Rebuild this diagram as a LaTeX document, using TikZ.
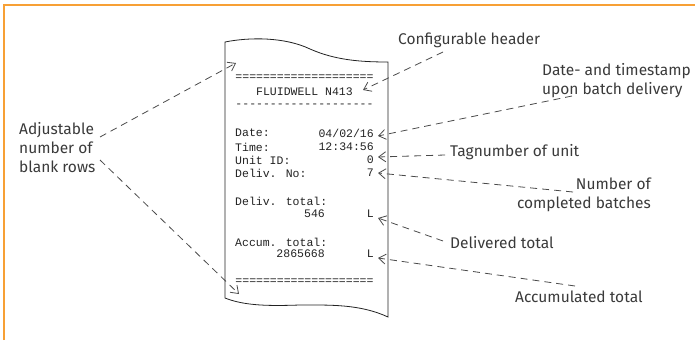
\documentclass[tikz,border=0pt]{standalone}
\usepackage{fontspec}
\setmainfont{Fira Sans}
\newfontfamily\rcpt{Liberation Mono}
\usetikzlibrary{arrows.meta}
\definecolor{frameorange}{HTML}{F7A035}
\definecolor{txtgray}{HTML}{3A3A3A}
\definecolor{rcptgray}{HTML}{222222}
\definecolor{linegray}{HTML}{4A4A4A}
\tikzset{
  rcptxt/.style={inner sep=0pt, font=\rcpt\fontsize{11.5}{13}\selectfont, text=rcptgray},
  lbl/.style={inner sep=0pt, font=\fontsize{15.5}{19}\selectfont, text=txtgray, align=left},
  callout/.style={draw=linegray, line width=0.8pt, dash pattern=on 7pt off 5pt,
    -{Straight Barb[length=7pt,width=10pt,line width=0.8pt]}},
  paper/.style={draw=rcptgray, line width=0.8pt}
}
\begin{document}
\begin{tikzpicture}[x=1pt,y=-1pt]
\useasboundingbox (0,0) rectangle (695,340);
% frame
\draw[frameorange, line width=1.5pt] (4,340) -- (4,5) -- (695,5);
% receipt paper
\draw[paper] (225,42) .. controls (250,37) and (285,37) .. (310,49)
  .. controls (335,60) and (360,62) .. (388,62) -- (388,317)
  .. controls (360,304) and (330,305) .. (300,305)
  .. controls (270,306) and (245,306) .. (225,298) -- cycle;
% receipt text
\node[rcptxt] (eq1) at (304.5,78) {====================};
\node[rcptxt] (hdr) at (304.5,92) {FLUIDWELL N413};
\node[rcptxt] (dash) at (304.5,106) {--------------------};
\node[rcptxt, anchor=west] (datek) at (235,133) {Date:};
\node[rcptxt, anchor=east] (datev) at (374,133) {04/02/16};
\node[rcptxt, anchor=west] (timek) at (235,147) {Time:};
\node[rcptxt, anchor=east] (timev) at (374,147) {12:34:56};
\node[rcptxt, anchor=west] (unitk) at (235,160) {Unit ID:};
\node[rcptxt, anchor=east] (unitv) at (374,160) {0};
\node[rcptxt, anchor=west] (delk) at (235,173) {Deliv. No:};
\node[rcptxt, anchor=east] (delv) at (374,173) {7};
\node[rcptxt, anchor=west] (dtk) at (235,201) {Deliv. total:};
\node[rcptxt, anchor=east] (dtv) at (325,214) {546};
\node[rcptxt, anchor=east] (dtu) at (374,214) {L};
\node[rcptxt, anchor=west] (atk) at (235,242) {Accum. total:};
\node[rcptxt, anchor=east] (atv) at (325,254) {2865668};
\node[rcptxt, anchor=east] (atu) at (374,254) {L};
\node[rcptxt] (eq2) at (304.5,282) {====================};
% labels
\node[lbl, anchor=west] (adj) at (19,148) {Adjustable\\number of\\blank rows};
\node[lbl, anchor=west] (conf) at (398,40) {Configurable header};
\node[lbl, anchor=west] (dts) at (542,81) {Date- and timestamp\\upon batch delivery};
\node[lbl, anchor=west] (tag) at (450,152) {Tagnumber of unit};
\node[lbl, anchor=east, align=right] (nob) at (651,195) {Number of\\completed batches};
\node[lbl, anchor=west] (dlt) at (450,243) {Delivered total};
\node[lbl, anchor=west] (act) at (515,297) {Accumulated total};
% connector ends
\coordinate (adjA) at (100,137);
\coordinate (adjB) at (100,160);
\coordinate (tipTop) at (236,63);
\coordinate (tipBot) at (239,294);
\coordinate (confS) at (443,52);
\coordinate (confT) at (363,90);
\coordinate (dtsS) at (572,96);
\coordinate (dtsT) at (378,136);
\coordinate (tagS) at (445,155);
\coordinate (tagT) at (378,157);
\coordinate (nobS) at (573,192);
\coordinate (nobT) at (378,173);
\coordinate (dltS) at (443,241);
\coordinate (dltT) at (378,218);
\coordinate (actS) at (575,286);
\coordinate (actT) at (378,258);
% connectors
\draw[callout] (adjA) -- (tipTop);
\draw[callout] (adjB) -- (tipBot);
\draw[callout] (confS) -- (confT);
\draw[callout] (dtsS) -- (dtsT);
\draw[callout] (tagS) -- (tagT);
\draw[callout] (nobS) -- (nobT);
\draw[callout] (dltS) -- (dltT);
\draw[callout] (actS) -- (actT);
\end{tikzpicture}
\end{document}
